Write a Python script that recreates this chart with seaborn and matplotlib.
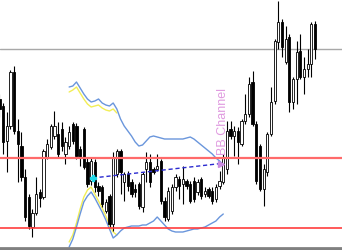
import matplotlib
matplotlib.use('Agg')
import matplotlib.pyplot as plt
import pandas as pd
import seaborn as sns

# Candles (price in points), one per bar
open_ = [151, 144, 109, 124, 178, 119, 104, 73, 53, 23,
         37, 58, 53, 93, 103, 114, 116, 121, 96, 104,
         126, 124, 101, 121, 88, 69, 88, 64, 63, 39,
         54, 26, 76, 99, 68, 76, 68, 61, 66, 43,
         81, 88, 81, 81, 89, 49, 31, 39, 63, 71,
         66, 69, 66, 69, 58, 71, 56, 61, 59, 51,
         64, 68, 81, 121, 114, 119, 106, 129, 136, 168,
         126, 104, 61, 78, 116, 149, 208, 228, 188, 213,
         148, 171, 199, 173, 181, 186, 226]
high = [156, 147, 138, 180, 184, 131, 118, 81, 56, 41,
        73, 61, 101, 111, 126, 139, 128, 128, 113, 124,
        128, 127, 104, 123, 93, 93, 91, 68, 65, 51,
        56, 98, 101, 101, 78, 79, 71, 66, 68, 78,
        98, 96, 83, 96, 91, 53, 63, 66, 76, 74,
        84, 71, 69, 73, 71, 73, 63, 63, 63, 66,
        79, 96, 129, 129, 124, 123, 131, 156, 173, 179,
        129, 106, 86, 118, 163, 211, 249, 231, 224, 216,
        173, 209, 216, 193, 201, 228, 229]
low = [133, 96, 78, 121, 116, 68, 69, 29, 21, 13,
       35, 43, 51, 91, 101, 111, 93, 99, 86, 101,
       106, 91, 84, 81, 63, 65, 58, 54, 43, 37,
       23, 19, 73, 56, 49, 59, 53, 53, 41, 38,
       68, 63, 76, 79, 46, 29, 29, 36, 59, 51,
       46, 61, 47, 48, 55, 51, 53, 52, 46, 48,
       61, 66, 76, 111, 94, 86, 104, 126, 133, 124,
       66, 59, 44, 74, 114, 146, 201, 193, 186, 138,
       141, 146, 171, 156, 173, 173, 191]
close = [141, 108, 124, 178, 119, 106, 73, 33, 24, 37,
         56, 52, 99, 106, 124, 124, 96, 104, 108, 118,
         109, 94, 93, 83, 66, 89, 63, 59, 46, 48,
         26, 93, 99, 78, 76, 64, 56, 58, 44, 76,
         88, 68, 78, 84, 49, 33, 59, 63, 73, 64,
         71, 64, 49, 51, 68, 54, 59, 54, 49, 63,
         69, 93, 119, 114, 119, 108, 129, 136, 166, 126,
         69, 61, 81, 116, 148, 209, 228, 203, 211, 148,
         171, 198, 173, 181, 186, 226, 201]

# Bollinger channel, starting at bar 19
band_start = 19
upper_band = [163, 164, 168, 162, 156, 151, 148, 149, 151, 147,
              145, 144, 147, 141, 131, 124, 119, 114, 108, 104,
              105, 109, 113, 114, 113, 112, 111, 111, 111, 111,
              111, 111, 112, 113, 111, 108, 105, 102, 99, 96,
              92, 89, 85]
lower_band = [3, 11, 23, 36, 48, 54, 58, 52, 45, 38,
              30, 21, 12, 15, 19, 22, 23, 24, 24, 24,
              25, 25, 27, 29, 33, 29, 25, 21, 19, 18,
              18, 18, 19, 20, 21, 21, 22, 23, 25, 27,
              29, 33, 36]
# earlier (shorter) channel drawn in yellow
prev_upper = [158, 160, 163, 157, 151, 146, 143, 144, 145, 142,
              140, 139, 141, 137]
prev_lower = [8, 15, 27, 41, 53, 60, 63, 56, 49, 42, 34, 25, 18, 15]

# horizontal levels
level_top = 201
level_mid = 92.5
level_low = 22

# trend line between two bars
trend_x = [25.4, 60.4]
trend_y = [72, 86.5]

label = 'BB Channel'
label_x, label_y = 60.9, 129

time_ticks = [8, 24, 40, 56, 72]

sns.set_style('white')
plt.rcParams['font.family'] = ['Liberation Sans', 'DejaVu Sans']

fig = plt.figure(figsize=(3.42, 2.51), dpi=100)
ax = fig.add_axes([0, 1.4 / 251, 1, 1 - 1.4 / 251])

df = pd.DataFrame({'open': open_, 'high': high, 'low': low, 'close': close})
df['bar'] = range(len(df))
up = df['close'] >= df['open']

ax.axhline(level_top, color='#a8a8a8', lw=1, zorder=1)

# bands
bx = list(range(band_start, band_start + len(upper_band)))
px = list(range(band_start, band_start + len(prev_upper)))
sns.lineplot(x=px, y=prev_upper, color='#f2ee55', lw=1, ax=ax, zorder=2)
sns.lineplot(x=px, y=prev_lower, color='#f2ee55', lw=1, ax=ax, zorder=2)
sns.lineplot(x=bx, y=upper_band, color='#6a96dc', lw=1, ax=ax, zorder=2)
sns.lineplot(x=bx, y=lower_band, color='#6a96dc', lw=1, ax=ax, zorder=2)

# candles
ax.vlines(df['bar'], df['low'], df['high'], color='black', lw=0.8, zorder=3)
ax.bar(df['bar'][up], (df['close'] - df['open'])[up], bottom=df['open'][up],
       width=0.62, color='white', edgecolor='black', lw=0.6, zorder=4)
ax.bar(df['bar'][~up], (df['close'] - df['open'])[~up], bottom=df['open'][~up],
       width=0.62, color='black', edgecolor='black', lw=0.6, zorder=4)

# levels
ax.axhline(level_mid, color='#ff6a6a', lw=1.6, zorder=5)
ax.axhline(level_low, color='#ff3d3d', lw=1.2, zorder=5)

# trend line with markers
ax.plot(trend_x, trend_y, ls=(0, (3, 2)), color='#2b2bd0', lw=1, zorder=6)
ax.plot(trend_x[0], trend_y[0], marker='P', color='#20d8e8', ms=5, zorder=7)
ax.plot(trend_x[1], trend_y[1], marker='>', color='#c98be0', ms=4, zorder=7)

ax.text(label_x, label_y, label, rotation=90, color='#e09be0', fontsize=9,
        ha='center', va='center', zorder=7)

for side in ['top', 'left', 'right']:
    ax.spines[side].set_visible(False)
ax.spines['bottom'].set_color('#808080')
ax.spines['bottom'].set_linewidth(2.7)
ax.set_xticks(time_ticks)
ax.set_yticks([])
ax.tick_params(axis='x', direction='in', length=2.5, width=1, color='#404040',
               labelbottom=False)
ax.set_xlim(0.163, 93.35)
ax.set_ylim(1.4, 251)
ax.set_xlabel('')
ax.set_ylabel('')

fig.savefig('out.png', dpi=100)
